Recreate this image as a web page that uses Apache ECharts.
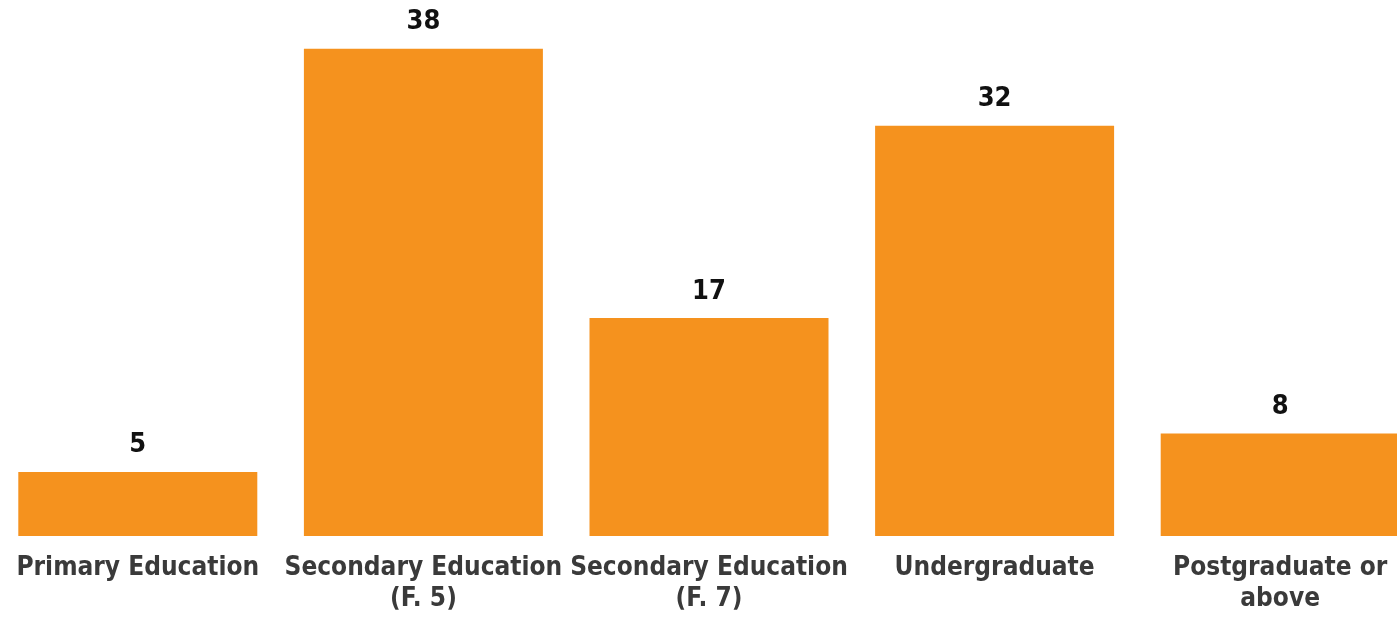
<!DOCTYPE html>
<html>
<head>
<meta charset="utf-8">
<script src="https://cdn.jsdelivr.net/npm/echarts@6/dist/echarts.min.js"></script>
<style>
  html, body { margin: 0; padding: 0; background: #ffffff; overflow: hidden; }
  /* plot area runs slightly past both edges of the page */
  #chart { position: relative; left: -5px; width: 1428px; height: 621px; }
</style>
</head>
<body>
<div id="chart"></div>
<script>
// Education level of respondents (%)
const categories = [
  'Primary Education',
  'Secondary Education\n(F. 5)',
  'Secondary Education\n(F. 7)',
  'Undergraduate',
  'Postgraduate or\nabove'
];
const values = [5, 38, 17, 32, 8];

const chart = echarts.init(document.getElementById('chart'), null, { renderer: 'canvas' });
const font = '"DejaVu Sans Condensed", "DejaVu Sans", sans-serif';

chart.setOption({
  animation: false,
  backgroundColor: '#ffffff',
  grid: { left: 0, right: 0, top: 0, bottom: 85, containLabel: false },
  xAxis: {
    type: 'category',
    data: categories,
    axisLine: { show: false },
    axisTick: { show: false },
    axisLabel: {
      interval: 0,
      margin: 17,
      color: '#3a3a3a',
      fontFamily: font,
      fontWeight: 'bold',
      fontSize: 26,
      lineHeight: 31
    }
  },
  yAxis: {
    type: 'value',
    min: 0,
    max: 41.8,
    show: false,
    splitLine: { show: false }
  },
  series: [{
    type: 'bar',
    data: values,
    barWidth: 239,
    itemStyle: { color: '#F5921E' },
    label: {
      show: true,
      position: 'top',
      distance: 13,
      color: '#111111',
      fontFamily: font,
      fontWeight: 'bold',
      fontSize: 27
    }
  }]
});
</script>
</body>
</html>
